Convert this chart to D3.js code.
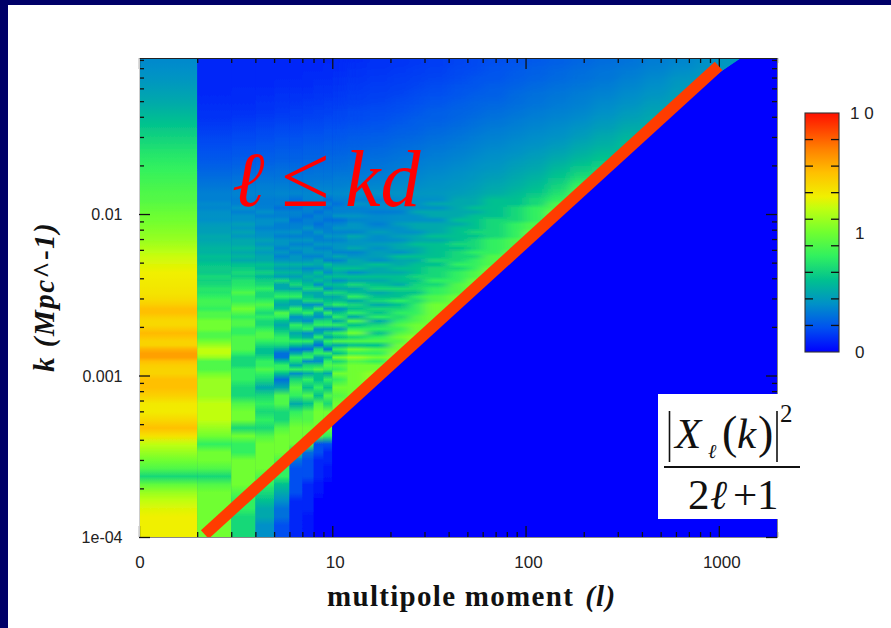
<!DOCTYPE html>
<html><head><meta charset="utf-8">
<script src="https://cdnjs.cloudflare.com/ajax/libs/d3/7.8.5/d3.min.js"></script>
<style>html,body{margin:0;padding:0;background:#fff;overflow:hidden}svg{display:block}</style>
</head><body><svg id="c" width="891" height="628"></svg>
<script>
// multipole column edges
const lEdges=[1,2,3,4,5,6,7,8,9,10,12,15,20,25,30,40,50,60,80,100,130,170,220,300,400,550,750,1000,1400,2000];
// levels per column, read top row (high k) downward; rows past the end keep the last level and sit under the ridge
const col01=[3.8,4,4.2,4.5,4.8,5.1,5.5,5.9,6.3,6.7,7.1,7.5,7.8,8.1,8.4,8.7,9, 9.1,9.3,9.5,9.7,9.9,10,10.2,10.4,10.6,10.8,11,11.3,11.6,11.9,12.2,12.4,12.6,12.8,13,13.1,13.2,13.3,13.4,13.5,13.7,14,14.4,15,15,14.4,14,14,14.6,15.2,14.8,14.2,14.2,15.4,16,16,15,14.4,14.2,14.2, 15,15,14.3,13.3,13.2,14,15,13.6,12,11,10,9,7,9.5,11,12,12.6,13,13,13];
const col02=[1,1,1,1,1,1.1,1.2,1.3,1.5,1.7,1.9,2.1,2.3,2.6,2.9,3.2,3.5, 3.5,3.8,3.7,4,4.1,4,4.4,4.6,4.6,5,4.9,5.2,5.5,5.4,5.9,5.7,6.2,6.4,6.3,7,6.7,7,7.6,7.5,8,8.6,8.5,8,9,9,10,10,10,9,9,10,11,12,12,11,9,9,9,10, 11,11,11,12,12,12,11,10,8,10,10,9,7,9,10,10,10,10,10,10];
const col03=[1,1,1,1,1.1,1.1,1.2,1.4,1.6,1.8,2,2.2,2.4,2.7,3,3.3,3.6, 3.4,3.5,4,3.5,4,4,4.6,4.2,4.8,4.3,5,5,5.6,5,5.6,5,6,6.4,7,6.6,7.4,7.6,8,9,8,8,9,10,9,8,9,9,8,8,9,9,9,9,8,7,7,7,8,8, 8,7,7,9,10,10,7,10,8,8,10,10,10,10,9,8,8,7,7,7];
const col04=[1,1,1,1,1.1,1.2,1.3,1.5,1.7,1.9,2.1,2.3,2.5,2.8,3.1,3.4,3.6, 3.4,3.4,3.5,4,3.5,4,4,3.6,4,4.1,4.7,4.2,5,4.4,5,5,6,5.6,6.6,5.6,6.6,7,8,7,7,8,9,8,7,8,7,7,8,9,9,8,7,6,6,7,8,8,9,8, 7,5,7,8,7,8,7,9,10,10,10,10,9,8,7,6,5,5,4,4];
const col05=[1,1,1,1.1,1.2,1.3,1.4,1.6,1.8,2,2.2,2.4,2.6,2.9,3.1,3.4,3.7, 3.4,3.5,3,3.6,3.5,4,3.5,3.5,4,3.5,4.2,4.2,3.6,4.3,3.6,4.3,5.4,4.6,5.6,4.6,7,5,5,7,8,6,5,6,9,8,6,5,6,7,8,8,7,5,3,3,6,8,8,6, 3,5,9,9,7,7,9,10,10,10,9,8,8,6,5,4,3,3,2,2];
const col06=[1,1,1,1.1,1.2,1.3,1.5,1.6,1.8,2,2.2,2.4,2.6,2.9,3.1,3.4,3.7, 3,3.6,3,3.6,3.5,3,3.5,3.6,4.2,3.5,4.2,3.6,4.3,3.6,4.3,4.3,5.4,4.6,5.6,4.6,6,7,5,7,8,5,5,8,7,4,5,8,7,5,6,8,6,3,5,8,7,5,8,4, 7,9,8,5,8,9,10,10,10,7,3,2,2,2,2,1,1,1,1,1];
const col07=[1,1,1.1,1.1,1.2,1.4,1.5,1.7,1.9,2.1,2.3,2.5,2.7,2.9,3.2,3.4,3.7, 3.6,3,3.6,3.5,3,3.5,3.5,4.2,3.5,3.6,4.3,3.6,4.3,4.3,3.6,4.3,5.4,3.8,4.8,5.6,5,6,7,5,6,7,4,6,8,5,4,7,8,4,5,8,5,3,7,8,4,7,8,5, 8,6,9,6,9,9,10,10,9,3,2,2,2,1,1,1,1,0.5,0.5,0.5];
const col08=[1,1,1.1,1.2,1.3,1.4,1.6,1.7,1.9,2.1,2.3,2.5,2.7,3,3.2,3.5,3.8, 3.6,3,3.6,3,3.6,3.5,3,3.5,4.3,3.5,3.6,4.3,3.6,4.3,3.6,5,5,4,6,5,6,4,7,5,5,7,4,8,5,4,7,8,4,5,8,5,3,7,8,5,4,7,9,6, 6,8,6,9,10,10,10,9,2,2,1,1,1,0.5,0.5,0,0,0,0,0];
const col09=[1,1.1,1.1,1.2,1.3,1.5,1.6,1.8,2,2.2,2.4,2.6,2.8,3,3.2,3.5,3.8, 3,3.6,3,3.6,3.5,3,3.6,3.5,3.6,4.3,3.6,4.3,3.6,4.3,4.3,3.6,6,5,4,6,5,6,4,7,5,6,7,4,8,5,7,8,4,7,5,8,6,3,8,6,8,9,8,5, 8,6,9,7,10,10,10,8,2,1,1,0.5,0.5,0,0,0,0,0,0,0];
const col10=[1.1,1.1,1.2,1.3,1.4,1.5,1.7,1.8,2,2.2,2.4,2.6,2.8,3,3.3,3.5,3.8, 3.5,3,3.6,3.5,4.2,3,3.6,4.2,3.6,4.2,3.6,4.2,4.2,3.6,5,3.6,5,6,5,6,4,6,5,7,5,6,8,4,6,8,5,8,4,8,6,9,5,8,6,10,7,9,8,10, 8,10,9,10,10,10,0];
const col12=[1.1,1.2,1.3,1.4,1.5,1.6,1.8,1.9,2.1,2.3,2.5,2.7,2.9,3.1,3.3,3.6,3.9, 3.5,4.2,3.5,3.6,4.2,3.6,4.2,4.2,3.6,5,4.2,4.2,5,3.6,4.2,5,5,6,4,6,5,7,5,6,8,5,7,6,8,5,9,6,8,10,7,9,6,10,8,11,9,10,10,10, 10,10,10,10];
const col15=[1.2,1.3,1.4,1.5,1.6,1.7,1.9,2,2.2,2.4,2.6,2.8,3,3.2,3.4,3.7,4, 3.4,3.8,3.8,3.3,3.8,3.8,3.4,3.9,4.6,3.9,3.9,4.6,4,4.6,4.6,4,6,5,5,6,5,6,7,5,6,7,5,7,6,8,5,7,8,6,8,9,6,9,8,10,8,10,10,11];
const col20=[1.3,1.4,1.5,1.6,1.7,1.9,2,2.2,2.4,2.6,2.8,3,3.2,3.4,3.6,3.8,4.1, 3.8,3.9,3.9,3.4,4,4,4.6,4,4,4.7,4,5,5,4,6,5,5,6,5,6,6,5,7,6,6,8,6,7,8,7,8,9,8,9,10,9,10,10,11,11,11];
const col25=[1.4,1.5,1.6,1.7,1.9,2,2.2,2.4,2.5,2.7,2.9,3.1,3.3,3.5,3.7,3.9,4.2, 4,4,4,5,4,4,5,5,4,5,5,6,5,5,6,5,6,6,6,7,6,7,7,6,8,7,8,8,8,9,9,10,10,10,11,11,11];
const col30=[1.5,1.6,1.7,1.9,2,2.2,2.4,2.5,2.7,2.9,3.1,3.3,3.5,3.7,3.9,4.1,4.3, 4,5,4,5,5,4,5,5,5,6,5,6,6,6,6,7,6,7,7,7,8,7,8,8,9,9,10,10,10,10,10,10];
const col40=[1.7,1.8,1.9,2.1,2.2,2.4,2.6,2.7,2.9,3.1,3.3,3.5,3.7,3.9,4.1,4.3,4.5, 5,5,5,5,5,6,5,6,6,6,6,7,6,7,7,7,8,7,8,8,8,9,9,9,10,10,10,10];
const col50=[1.8,1.9,2.1,2.2,2.4,2.6,2.7,2.9,3.1,3.3,3.5,3.7,3.9,4.1,4.3,4.5,4.8, 5,5,6,5,6,6,6,6,7,6,7,7,7,8,7,8,8,8,9,9,10,10,10,10];
const col60=[2,2.1,2.2,2.4,2.5,2.7,2.9,3.1,3.3,3.5,3.7,3.9,4.1,4.3,4.6,4.9,5.2, 6,6,6,6,6,7,7,7,7,7,8,8,8,8,9,9,9,10,10,10];
const col80=[2.1,2.3,2.4,2.6,2.8,2.9,3.1,3.3,3.5,3.7,3.9,4.1,4.4,4.7,5,5.3,5.7, 6,6,7,7,7,7,8,8,8,8,9,9,9,10,10,10];
const col100=[2.3,2.5,2.6,2.8,3,3.1,3.3,3.5,3.7,3.9,4.1,4.4,4.7,5,5.4,5.8,6.3, 7,7,8,8,8,8,9,9,10,10,10,10];
const col130=[2.5,2.7,2.8,3,3.2,3.3,3.5,3.7,3.9,4.1,4.4,4.8,5.2,5.7,6.2,6.8,7.4, 8,9,9,10,10,10,10,10];
const col170=[2.7,2.9,3,3.2,3.4,3.5,3.7,3.9,4.2,4.5,4.9,5.3,5.8,6.4,7.2,8.2,9];
const col220=[2.9,3.1,3.2,3.4,3.6,3.8,4,4.3,4.6,5,5.3,5.8,6.3,6.9,7.4];
const col300=[3.1,3.3,3.5,3.7,3.9,4.1,4.4,4.7,5.1,5.5,5.9];
const col400=[3.4,3.6,3.8,4,4.2,4.5,4.8,5,5.2];
const col550=[3.7,3.9,4.2,4.4,4.6,4.8,5];
const col750=[4,4.2,4.4,4.6];
const col1000=[4.3,4.4];
const col1400=[4.4];
const columns=[col01,col02,col03,col04,col05,col06,col07,col08,col09,col10,col12,col15,col20,col25,col30,col40,col50,col60,col80,col100,col130,col170,col220,col300,col400,col550,col750,col1000,col1400];
// colour map
const mapLevels=[0,2,4,6,8,10,12,13,15,17,20];
const mapColors=['#0000ff','#0050f0','#0090c8','#00c090','#30f060','#70ff30','#c0ff10','#f0f000','#ffc000','#ff8000','#ff1000'];
// axes
const xMajor=[1,10,100,1000], xLabels=['0','10','100','1000'];
const xMinor=[2,3,4,5,6,7,8,9,20,30,40,50,60,70,80,90,200,300,400,500,600,700,800,900,2000];
const yMajor=[1e-4,1e-3,1e-2], yLabels=['1e-04','0.001','0.01'];
const yMinor=[2e-4,3e-4,4e-4,5e-4,6e-4,7e-4,8e-4,9e-4,2e-3,3e-3,4e-3,5e-3,6e-3,7e-3,8e-3,9e-3,.02,.03,.04,.05,.06,.07,.08,.09];
// ridge annotation and cut-off
const annotL=[2.19,998], annotK=[1.036e-4,0.0824];
const cutoffL=[10,18.3,795,1300], cutoffK=[5.45e-4,0.00105,0.0621,0.0925];
const barTicks=[1,2,3,4,5,6,7,8], barLabels=['0','1','1 0'], barLabelLevels=[0,10,20];

const svg=d3.select('#c');
const x=d3.scaleLog().domain([1,2000]).range([139,777]);
const y=d3.scaleLog().domain([1e-4,0.0925]).range([537,58]);
const color=d3.scaleLinear().domain(mapLevels).range(mapColors);
const sans='"Liberation Sans",Arial,sans-serif', serif='"Liberation Serif","Times New Roman",serif';

svg.append('rect').attr('width',891).attr('height',628).attr('fill','#000068');
svg.append('rect').attr('x',8).attr('y',5).attr('width',883).attr('height',623).attr('fill','#fff');

const defs=svg.append('defs');
const f=defs.append('filter').attr('id','soft').attr('x',-.02).attr('y',-.02).attr('width',1.04).attr('height',1.04);
f.append('feGaussianBlur').attr('stdDeviation','0.5 0.4');
const f2=defs.append('filter').attr('id','softX').attr('x',-.05).attr('y',-.02).attr('width',1.1).attr('height',1.04);
f2.append('feGaussianBlur').attr('stdDeviation','6 0.3');
const [x0,x1]=x.range(),[y0,y1]=y.range();
const clipPts=[[1,0.0925],...cutoffL.map((l,i)=>[l,cutoffK[i]]).reverse(),[10,1e-4],[1,1e-4]].map(d=>[x(d[0]),y(d[1])]);
defs.append('clipPath').attr('id','ridge').append('polygon').attr('points',clipPts.join(' '));
defs.append('clipPath').attr('id','plot').append('rect').attr('x',x0).attr('y',y1).attr('width',x1-x0).attr('height',y0-y1);

svg.append('rect').attr('x',x0).attr('y',y1).attr('width',x1-x0).attr('height',y0-y1).attr('fill','#0000ff');

// rows: log10 k edges, coarse at top and bottom, fine in between
const logTop=Math.log10(0.0925);
const rowEdges=[];
for(let i=0;i<17;i++)rowEdges.push(logTop+(-1.9-logTop)*i/17);
for(let i=0;i<44;i++)rowEdges.push(-1.9+(-1.1)*i/44);
for(let i=0;i<=20;i++)rowEdges.push(-3-i/20);
const rowCentre=i=>(y(Math.pow(10,rowEdges[i]))+y(Math.pow(10,rowEdges[i+1])))/2;

const grads=defs.selectAll('linearGradient.col').data(columns).join('linearGradient')
 .attr('class','col').attr('id',(d,i)=>'col'+i).attr('gradientUnits','userSpaceOnUse')
 .attr('x1',0).attr('x2',0).attr('y1',y1).attr('y2',y0);
grads.selectAll('stop').data(d=>d.map((v,i)=>({v,i}))).join('stop')
 .attr('offset',d=>(rowCentre(d.i)-y1)/(y0-y1)).attr('stop-color',d=>color(d.v));

const gPlot=svg.append('g').attr('clip-path','url(#ridge)');
const drawCols=(sel,first)=>sel.selectAll('rect').data(columns.map((c,i)=>({c,i})).filter(d=>d.i>=first)).join('rect')
 .attr('x',d=>x(lEdges[d.i])).attr('width',d=>x(lEdges[d.i+1])-x(lEdges[d.i])+.5)
 .attr('y',y1).attr('height',y0-y1)
 .attr('fill',d=>`url(#col${d.i})`);
drawCols(gPlot.append('g').attr('filter','url(#soft)'),0);
drawCols(gPlot.append('g').attr('filter','url(#softX)'),10);

// axes
function ticks(gen,vals,size,tx){
 const g=svg.append('g').attr('transform',tx).call(gen.tickValues(vals).tickSize(size).tickFormat('').tickSizeOuter(0));
 g.select('.domain').attr('stroke','#222').attr('stroke-width',1);
 g.selectAll('.tick line').attr('stroke','#111').attr('stroke-width',1.3);
 return g;
}
ticks(d3.axisBottom(x),xMinor,5,`translate(0,${y1})`);
ticks(d3.axisBottom(x),xMajor,11,`translate(0,${y1})`);
ticks(d3.axisTop(x),xMinor,5,`translate(0,${y0})`).select('.domain').attr('stroke','#888');
ticks(d3.axisTop(x),xMajor,11,`translate(0,${y0})`).select('.domain').attr('stroke','#888');
ticks(d3.axisRight(y),yMinor,5,`translate(${x0},0)`).select('.domain').attr('stroke','#ccc');
ticks(d3.axisRight(y),yMajor,11,`translate(${x0},0)`).select('.domain').attr('stroke','#ccc');
ticks(d3.axisLeft(y),yMinor,5,`translate(${x1},0)`).select('.domain').attr('stroke','#888');
ticks(d3.axisLeft(y),yMajor,11,`translate(${x1},0)`).select('.domain').attr('stroke','#888');

const txt=(xp,yp,s,o={})=>svg.append('text').attr('x',xp).attr('y',yp).text(s)
  .attr('font-family',o.ff||sans).attr('font-size',o.fs||14).attr('fill',o.fill||'#222')
  .attr('text-anchor',o.a||'start').attr('font-style',o.it?'italic':null).attr('font-weight',o.b?'bold':null)
  .attr('letter-spacing',o.ls||null);

svg.selectAll('.xl').data(xMajor).join('text').attr('class','xl')
 .attr('x',(d,i)=>x(d)+(i?3:1)).attr('y',568).attr('text-anchor','middle')
 .attr('font-family',sans).attr('font-size',17).attr('fill','#222').text((d,i)=>xLabels[i]);
svg.selectAll('.yl').data(yMajor).join('text').attr('class','yl')
 .attr('x',122.5).attr('y',d=>y(d)+6).attr('text-anchor','end')
 .attr('font-family',sans).attr('font-size',16).attr('fill','#222').text((d,i)=>yLabels[i]);

// axis titles
const xt=txt(327,606,'',{ff:serif,fs:29,b:1,fill:'#111',ls:1.3});
xt.append('tspan').text('multipole moment');
xt.append('tspan').attr('dx',11).attr('font-style','italic').text('(l)');
const yt=svg.append('text').attr('transform','translate(54,372) rotate(-90)')
 .attr('font-family',serif).attr('font-size',29).attr('font-weight','bold').attr('fill','#111').attr('font-style','italic').attr('letter-spacing',1.5);
yt.append('tspan').text('k (Mpc');
yt.append('tspan').attr('font-style','normal').text('^-');
yt.append('tspan').text('1)');

// ridge line
svg.append('path').attr('clip-path','url(#plot)')
 .attr('d',d3.line().x(d=>x(d[0])).y(d=>y(d[1]))(annotL.map((l,i)=>[l,annotK[i]])))
 .attr('stroke','#ff3c00').attr('stroke-width',11.5).attr('fill','none');

// inequality
txt(232,206,'ℓ',{ff:serif,fs:78,it:1,fill:'#ff0000'});
txt(281,206,'≤',{ff:serif,fs:88,fill:'#ff0000'});
txt(345,206,'kd',{ff:serif,fs:80,it:1,fill:'#ff0000'});

// formula box
svg.append('rect').attr('x',658).attr('y',394).attr('width',145).attr('height',125).attr('fill','#fff');
const black='#111';
svg.append('line').attr('x1',664).attr('x2',800).attr('y1',467).attr('y2',467).attr('stroke',black).attr('stroke-width',2);
[669.5,777].forEach(v=>svg.append('line').attr('x1',v).attr('x2',v).attr('y1',411).attr('y2',462).attr('stroke',black).attr('stroke-width',1.6));
txt(675,448,'X',{ff:serif,fs:43,it:1,fill:black});
txt(708,458,'ℓ',{ff:serif,fs:20,it:1,fill:black});
txt(722,448,'(',{ff:serif,fs:46,fill:black});
txt(737,448,'k',{ff:serif,fs:43,it:1,fill:black});
txt(758,448,')',{ff:serif,fs:46,fill:black});
txt(780,422,'2',{ff:serif,fs:25,fill:black});
txt(688,509,'2',{ff:serif,fs:43,fill:black});
txt(710,509,'ℓ',{ff:serif,fs:41,it:1,fill:black});
txt(733,509,'+',{ff:serif,fs:43,fill:black});
txt(757,509,'1',{ff:serif,fs:43,fill:black});

// colour bar
const barY=d3.scaleLinear().domain([0,20]).range([352,113]);
const barGrad=defs.append('linearGradient').attr('id','barGrad').attr('gradientUnits','userSpaceOnUse')
 .attr('x1',0).attr('x2',0).attr('y1',barY(0)).attr('y2',barY(20));
barGrad.selectAll('stop').data(mapLevels).join('stop').attr('offset',d=>d/20).attr('stop-color',d=>color(d));
svg.append('rect').attr('x',805).attr('y',113).attr('width',34).attr('height',239).attr('fill','url(#barGrad)').attr('stroke','#333').attr('stroke-width',1.1);
const tickG=svg.append('g').selectAll('g').data(barTicks).join('g');
tickG.append('line').attr('x1',805).attr('x2',813).attr('y1',d=>barY(d*20/9)).attr('y2',d=>barY(d*20/9)).attr('stroke','#111').attr('stroke-width',1.3);
tickG.append('line').attr('x1',831).attr('x2',839).attr('y1',d=>barY(d*20/9)).attr('y2',d=>barY(d*20/9)).attr('stroke','#111').attr('stroke-width',1.3);
svg.selectAll('.bl').data(barLabelLevels).join('text').attr('class','bl')
 .attr('x',(d,i)=>i==2?850:855).attr('y',d=>barY(d)+6).attr('font-family',sans).attr('font-size',17).attr('fill','#222')
 .text((d,i)=>barLabels[i]);
</script></body></html>
